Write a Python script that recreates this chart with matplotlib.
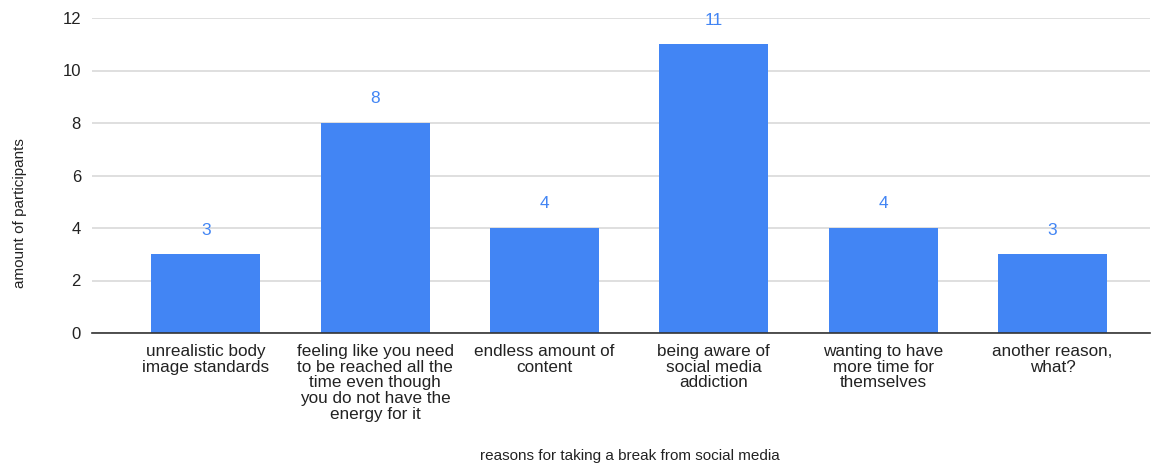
import matplotlib.pyplot as plt
import numpy as np

plt.rcParams['font.family'] = ['Liberation Sans', 'DejaVu Sans']

# survey answers
reasons = [
    "unrealistic body\nimage standards",
    "feeling like you need\nto be reached all the\ntime even though\nyou do not have the\nenergy for it",
    "endless amount of\ncontent",
    "being aware of\nsocial media\naddiction",
    "wanting to have\nmore time for\nthemselves",
    "another reason,\nwhat?",
]
counts = [3, 8, 4, 11, 4, 3]
yticks = [0, 2, 4, 6, 8, 10, 12]

bar_color = "#4285f4"

fig = plt.figure(figsize=(11.59, 4.66), dpi=100)
ax = fig.add_axes([92 / 1159, 133 / 466, (1150 - 92) / 1159, 315 / 466])

x = np.arange(len(reasons))
bars = ax.bar(x, counts, width=0.644, color=bar_color, zorder=3)
for xi, c in zip(x, counts):
    ax.annotate(str(c), (xi, c), xytext=(0, 12), textcoords="offset points",
                ha="center", va="bottom", color=bar_color, fontsize=12.5)

ax.set_xlim(-0.673, 5.576)
ax.set_ylim(0, 12)
ax.set_yticks(yticks)
ax.set_xticks(x)
ax.set_xticklabels(reasons, fontsize=12.3, linespacing=1.05, color="#222222")
ax.tick_params(axis="y", length=0, pad=8, labelsize=12, labelcolor="#222222")
ax.tick_params(axis="x", length=0, pad=8)
ax.grid(axis="y", color="#d9d9d9", linewidth=1.2, zorder=0)
for s in ["top", "right", "left"]:
    ax.spines[s].set_visible(False)
ax.spines["bottom"].set_color("#333333")
ax.spines["bottom"].set_linewidth(1.2)
ax.spines["bottom"].set_zorder(4)

fig.text(20 / 1159, 1 - 213 / 466, "amount of participants", rotation=90,
         ha="center", va="center", fontsize=11, color="#222222")
fig.text(630 / 1159, 1 - 456 / 466, "reasons for taking a break from social media",
         ha="center", va="center", fontsize=11, color="#222222")

fig.savefig("out.png", dpi=100)
